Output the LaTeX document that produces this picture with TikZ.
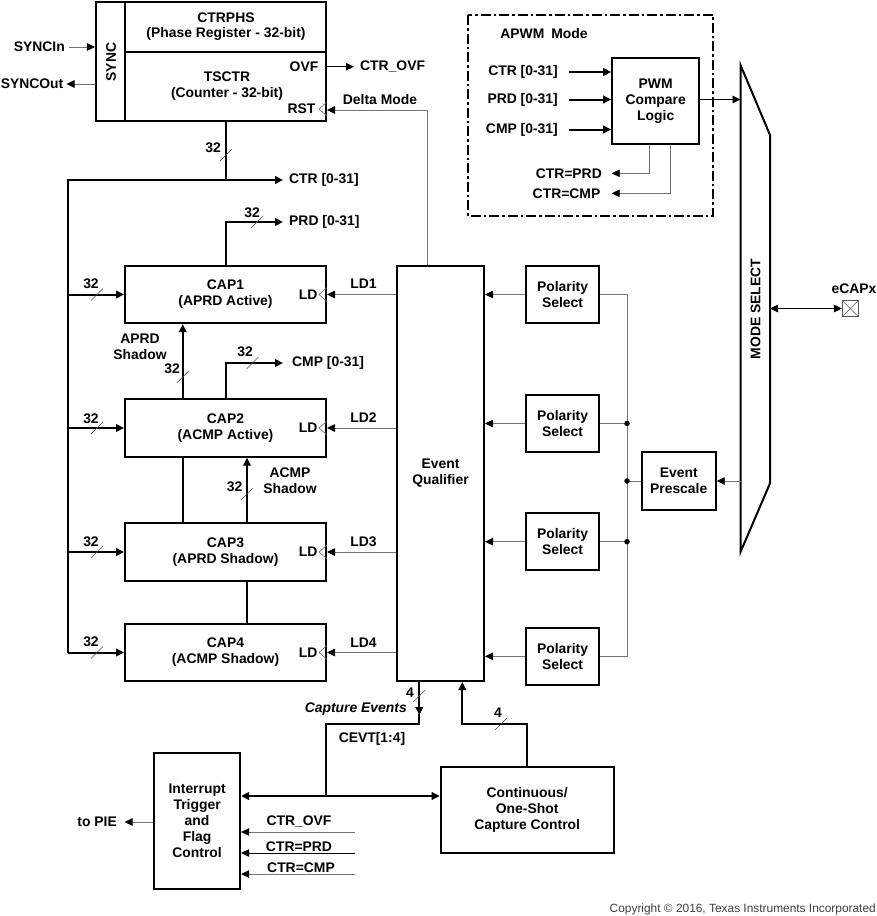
\documentclass[tikz,border=0pt]{standalone}
\usepackage{fontspec}
\setmainfont{Liberation Sans}
\usetikzlibrary{arrows.meta,calc}
\newcommand\busslash[2]{\draw[slash] (#1-6,#2+6) -- ++(12,-12);}
\begin{document}
\begin{tikzpicture}[x=1bp,y=-1bp,
  font=\fontsize{13.9bp}{16bp}\selectfont\bfseries,
  box/.style={draw,line width=2bp,inner sep=0pt,align=center},
  lbl/.style={inner sep=0pt,align=center},
  bus/.style={line width=2bp},
  sig/.style={line width=0.9bp,draw=black!55},
  sigk/.style={line width=0.9bp,draw=black},
  arr/.style={-{Triangle[length=8bp,width=7.5bp,color=black]}},
  arrb/.style={{Triangle[length=8bp,width=7.5bp,color=black]}-{Triangle[length=8bp,width=7.5bp,color=black]}},
  slash/.style={line width=0.6bp,draw=black!70},
  ldtri/.style={line width=0.6bp,draw=black!60},
  dot/.style={circle,fill=black,inner sep=0pt,minimum size=5.5bp}
]
\path[use as bounding box] (0,0) rectangle (877,916);

% ---------- counter block ----------
\node[box,minimum width=230bp,minimum height=119.5bp] (ts) at (211,61.25) {};
\coordinate (sdx) at (125.3,51.7);
\draw[bus] (sdx |- ts.north) -- (sdx |- ts.south);
\draw[bus] (sdx) -- (ts.east |- sdx);
\node[lbl,rotate=90] (sync) at (111,62) {SYNC};
\node[lbl,font=\fontsize{13.9bp}{15bp}\selectfont\bfseries] (ctrphs) at (226,26.5) {CTRPHS\\(Phase Register - 32-bit)};
\node[lbl] (tsctr) at (227,86.5) {TSCTR\\(Counter - 32-bit)};
\node[lbl,anchor=east] (ovf) at (318.5,66.7) {OVF};
\node[lbl,anchor=east] (rst) at (315.5,109) {RST};
\draw[ldtri] ($(ts.east |- rst)+(0,-7)$) -- ++(-8,7) -- ++(8,7);
\node[lbl,anchor=west] (ctrovf) at (360,66.7) {CTR\_OVF};
\draw[sigk,arr] (ts.east |- ovf) -- (354,66.7);
\node[lbl,anchor=east] (syncin) at (65,47) {SYNCIn};
\draw[sig,arr] (69,47) -- (ts.west |- syncin);
\node[lbl,anchor=east] (syncout) at (63.5,84) {SYNCOut};
\draw[sig,arr] (ts.west |- syncout) -- (66.5,84);
\node[lbl] (delta) at (380,100) {Delta Mode};

% ---------- CAP registers ----------
\node[box,minimum width=201bp,minimum height=57.3bp] (cap1) at (225.5,294.5) {CAP1\\(APRD Active)};
\node[box,minimum width=201bp,minimum height=57.3bp] (cap2) at (225.5,428) {CAP2\\(ACMP Active)};
\node[box,minimum width=201bp,minimum height=57.3bp] (cap3) at (225.5,552) {CAP3\\(APRD Shadow)};
\node[box,minimum width=201bp,minimum height=57.3bp] (cap4) at (225.5,652.5) {CAP4\\(ACMP Shadow)};
\foreach \c/\n in {cap1/1,cap2/2,cap3/3,cap4/4}{
  \node[lbl,anchor=east] (ld\n) at ($(\c.east)+(-9.5,0)$) {LD};
  \draw[ldtri] ($(\c.east)+(0,-7)$) -- ++(-8,7) -- ++(8,7);
}

% ---------- event qualifier / polarity ----------
\node[box,minimum width=87bp,minimum height=415bp] (eq) at (440.5,473.5) {Event\\Qualifier};
\node[box,minimum width=73bp,minimum height=57.5bp] (pol1) at (562.5,294.5) {Polarity\\Select};
\node[box,minimum width=73bp,minimum height=57.5bp] (pol2) at (562.5,423.5) {Polarity\\Select};
\node[box,minimum width=73bp,minimum height=57.5bp] (pol3) at (562.5,541.7) {Polarity\\Select};
\node[box,minimum width=73bp,minimum height=57.5bp] (pol4) at (562.5,656.3) {Polarity\\Select};
\node[box,minimum width=74bp,minimum height=58bp] (pre) at (678.7,481) {Event\\Prescale};

\foreach \n in {1,2,3,4}{
  \draw[sig,arr] (pol\n.west) -- (eq.east |- pol\n.west);
  \draw[sig,arr] (eq.west |- cap\n.east) -- (cap\n.east);
}
\node[lbl] (ld1l) at (363.5,284) {LD1};
\node[lbl] (ld2l) at (363.5,418) {LD2};
\node[lbl] (ld3l) at (363.5,541.5) {LD3};
\node[lbl] (ld4l) at (363.5,642.5) {LD4};

\coordinate (pv) at (627,0);
\draw[sig] (pol1.east) -- (pv |- pol1.east) -- (pv |- pol4.east) -- (pol4.east);
\draw[sig] (pol2.east) -- (pv |- pol2.east);
\draw[sig] (pol3.east) -- (pv |- pol3.east);
\draw[sig] (pv |- pre.west) -- (pre.west);
\node[dot] (d1) at (pv |- pol2.east) {};
\node[dot] (d2) at (pv |- pre.west) {};
\node[dot] (d3) at (pv |- pol3.east) {};

% Delta mode
\coordinate (dmx) at (427,110);
\draw[sig,arr] (eq.north -| dmx) -- (dmx) -- (ts.east |- dmx);

% ---------- buses ----------
\coordinate (bl) at (68,180);
\coordinate (ctrx) at (226,180);
\node[lbl,anchor=west] (ctrl) at (289,180) {CTR [0-31]};
\draw[bus,arr] (bl |- cap4.west) -- (bl) -- (283,180);
\draw[bus] (ctrx |- ts.south) -- (ctrx);
\busslash{226}{155}
\node[lbl] (n32a) at (213,148) {32};

\foreach \c/\y in {cap1/284,cap2/418.5,cap3/542,cap4/641.5}{
  \draw[bus,arr] (bl |- \c.west) -- (\c.west);
  \node[lbl] at (91,\y) {32};
}
\busslash{97}{294.5}
\busslash{97}{428}
\busslash{97}{552}
\busslash{97}{652.5}

\coordinate (prdx) at (226,222);
\draw[bus,arr] (cap1.north -| prdx) -- (prdx) -- (283,222);
\node[lbl,anchor=west] (prdl) at (289,222) {PRD [0-31]};
\busslash{257}{222}
\node[lbl] (n32b) at (252,213) {32};

\coordinate (aprdx) at (182.7,0);
\draw[bus,arr] (cap2.north -| aprdx) -- (cap1.south -| aprdx);
\busslash{182.7}{377}
\node[lbl] (n32c) at (172,369) {32};
\node[lbl] (aprdl) at (140,346.5) {APRD\\Shadow};

\coordinate (cmpx) at (226,363);
\draw[bus,arr] (cap2.north -| cmpx) -- (cmpx) -- (283,363);
\node[lbl,anchor=west] (cmpl) at (292,363) {CMP [0-31]};
\busslash{252.5}{363}
\node[lbl] (n32d) at (245,352) {32};

\draw[bus] (cap3.north -| aprdx) -- (cap2.south -| aprdx);
\coordinate (acx) at (247,0);
\draw[bus,arr] (cap3.north -| acx) -- (cap2.south -| acx);
\busslash{247}{494}
\node[lbl] (n32e) at (234.5,487) {32};
\node[lbl] (acmpl) at (290,481) {ACMP\\Shadow};
\draw[bus] (cap4.north -| acx) -- (cap3.south -| acx);

% ---------- APWM ----------
\draw[line width=2bp,dash pattern=on 10bp off 3bp on 2.5bp off 3bp] (468.3,15) rectangle (713.3,216);
\node[lbl] (apwm) at (544,34) {APWM\enspace Mode};
\node[box,minimum width=87bp,minimum height=86bp] (pwm) at (655.7,101.3) {PWM\\Compare\\Logic};
\node[lbl,anchor=east] (ai1) at (558,72) {CTR [0-31]};
\node[lbl,anchor=east] (ai2) at (558,99.5) {PRD [0-31]};
\node[lbl,anchor=east] (ai3) at (558,129.5) {CMP [0-31]};
\draw[bus,arr] (569,72) -- (pwm.west |- ai1);
\draw[bus,arr] (569,99.5) -- (pwm.west |- ai2);
\draw[bus,arr] (569,129.5) -- (pwm.west |- ai3);
\node[lbl,anchor=east] (ao1) at (602,173.3) {CTR=PRD};
\node[lbl,anchor=east] (ao2) at (600.5,193.3) {CTR=CMP};
\coordinate (o1x) at (649,173.3);
\coordinate (o2x) at (670,193.3);
\draw[sig,arr] (pwm.south -| o1x) -- (o1x) -- (611.7,173.3);
\draw[sig,arr] (pwm.south -| o2x) -- (o2x) -- (611.7,193.3);

% ---------- mode select ----------
\coordinate (msA) at (740.5,65);
\coordinate (msB) at (770,135);
\coordinate (msC) at (770,483.3);
\coordinate (msD) at (740.5,552);
\draw[line width=2bp,line join=miter] (msA) -- (msB) -- (msC) -- (msD) -- cycle;
\node[lbl,rotate=90] (msel) at (755.5,309) {MODE SELECT};
\draw[sigk,arr] (pwm.east |- 0,99.5) -- (msA |- 0,99.5);
\draw[sig,arr] (msA |- pre.east) -- (pre.east);
\node[draw=black!65,line width=0.7bp,minimum size=16bp,inner sep=0pt] (pad) at (850.3,308.5) {};
\draw[black!65,line width=0.6bp] (pad.north west) -- (pad.south east) (pad.north east) -- (pad.south west);
\draw[sigk,arrb] (msC |- pad.west) -- (pad.west);
\node[lbl] (ecap) at (854,289) {eCAPx};

% ---------- bottom ----------
\node[box,minimum width=86bp,minimum height=136.3bp] (int) at (197.1,821) {Interrupt\\Trigger\\and\\Flag\\Control};
\node[box,minimum width=173bp,minimum height=85.4bp] (cont) at (527.2,810) {Continuous/\\One-Shot\\Capture Control};
\draw[bus,arrb] (int.east |- 0,796) -- (cont.west |- 0,796);
\coordinate (cex) at (419.3,724);
\coordinate (cjx) at (326,796);
\draw[bus,arr] (eq.south -| cex) -- (419.3,715);
\draw[bus] (419.3,714) -- (cex) -- (cjx |- cex) -- (cjx);
\busslash{419.3}{696}
\node[lbl] (n4a) at (410,693) {4};
\node[lbl,anchor=east,font=\fontsize{13.9bp}{16bp}\selectfont\bfseries\itshape] (capev) at (407,709) {Capture Events};
\node[lbl] (cevt) at (372,739) {CEVT[1:4]};
\coordinate (upx) at (462.3,724);
\coordinate (ctx) at (527,724);
\draw[bus,arr] (cont.north -| ctx) -- (ctx) -- (upx) -- (eq.south -| upx);
\busslash{501}{724}
\node[lbl] (n4b) at (498,713) {4};

\node[lbl,anchor=east] (pie) at (117,822) {to PIE};
\draw[sig,arr] (int.west |- pie) -- (124.6,822);
\node[lbl] (i1) at (299,821.7) {CTR\_OVF};
\node[lbl] (i2) at (299,846.7) {CTR=PRD};
\node[lbl] (i3) at (301,867.7) {CTR=CMP};
\draw[sig,arr] (354.7,832) -- (int.east |- 0,832);
\draw[sigk,arr] (354.7,853) -- (int.east |- 0,853);
\draw[sig,arr] (354.7,874) -- (int.east |- 0,874);

\node[lbl,anchor=east,font=\fontsize{11.9bp}{14bp}\selectfont,text=black!75] (copy) at (876,909) {Copyright © 2016, Texas Instruments Incorporated};
\end{tikzpicture}
\end{document}
